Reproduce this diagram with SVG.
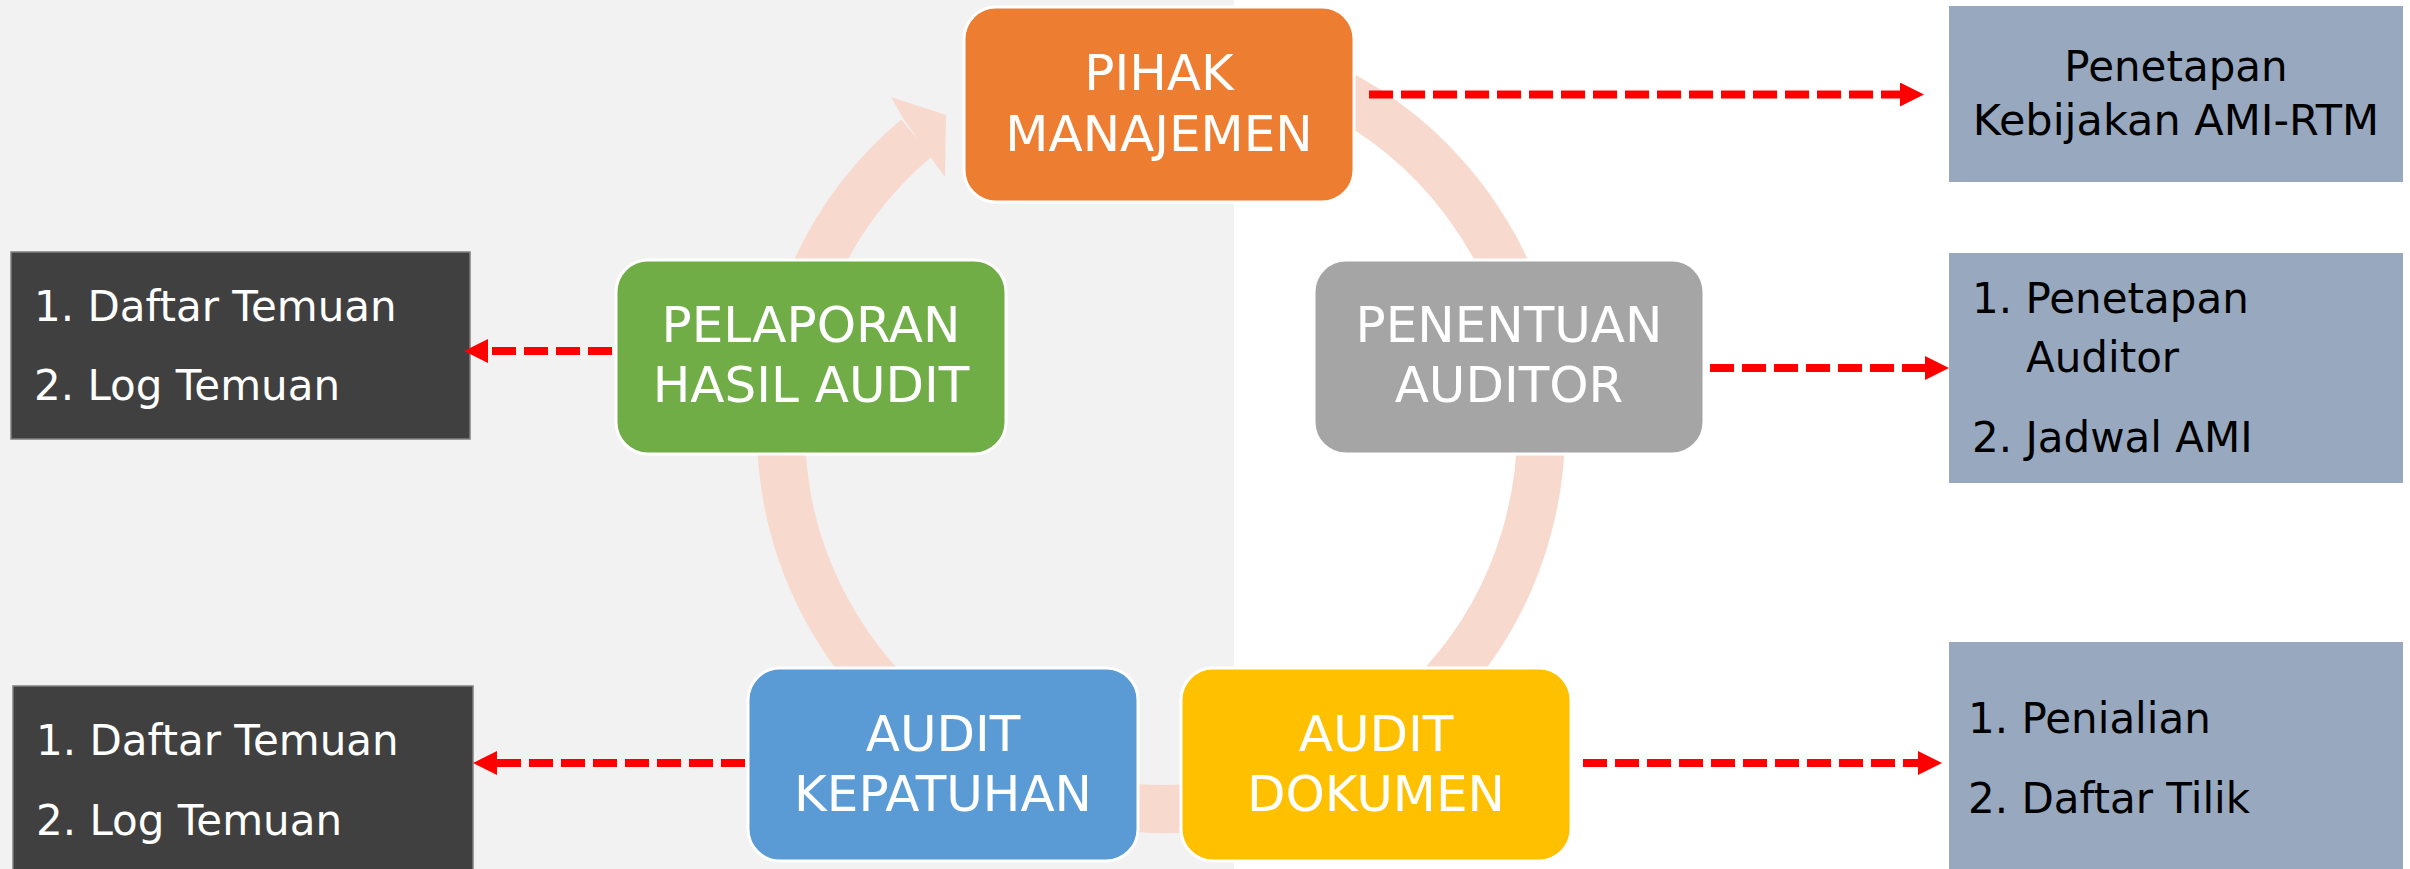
<svg xmlns="http://www.w3.org/2000/svg" width="2410" height="869" viewBox="0 0 2410 869">
  <defs>
    <style>
      .node { stroke: #FFFFFF; stroke-width: 3; }
      .label { font-family: "DejaVu Sans", "Liberation Sans", sans-serif; font-size: 50px; fill: #FFFFFF; text-anchor: middle; }
      .dark { fill: #404040; stroke: #7F7F7F; stroke-width: 1.5; }
      .info { fill: #98A9BF; }
      .wtxt { font-family: "DejaVu Sans", "Liberation Sans", sans-serif; font-size: 42px; fill: #FFFFFF; }
      .btxt { font-family: "DejaVu Sans", "Liberation Sans", sans-serif; font-size: 42px; fill: #000000; }
      .dash { stroke: #FF0000; stroke-width: 8; stroke-dasharray: 24 8; fill: none; }
      .cycle { stroke: #F8D9CE; stroke-width: 48; fill: none; }
    </style>
    <marker id="head" viewBox="0 0 24 24" refX="0" refY="12" markerWidth="24" markerHeight="24" markerUnits="userSpaceOnUse" orient="auto">
      <path d="M0,0 L24,12 L0,24 z" fill="#FF0000"/>
    </marker>
  </defs>

  <g id="background">
    <rect x="0" y="0" width="2410" height="869" fill="#FFFFFF"/>
    <rect x="0" y="0" width="1234" height="869" fill="#F2F2F2"/>
  </g>

  <g id="cycle-connector">
    <path class="cycle" d="M1161,49 A380,380 0 1 1 916.7,137.9"/>
    <polygon points="891,97 946,115 945,177 931,158 903,118" fill="#F8D9CE"/>
  </g>

  <g id="node-pihak">
    <rect class="node" x="964" y="7" width="390" height="195" rx="32" fill="#ED7D31"/>
    <text class="label" x="1159" y="90">PIHAK</text>
    <text class="label" x="1159" y="151">MANAJEMEN</text>
  </g>

  <g id="node-penentuan">
    <rect class="node" x="1314" y="260" width="390" height="194" rx="32" fill="#A5A5A5"/>
    <text class="label" x="1509" y="342">PENENTUAN</text>
    <text class="label" x="1509" y="402">AUDITOR</text>
  </g>

  <g id="node-dokumen">
    <rect class="node" x="1181" y="668" width="390" height="193" rx="32" fill="#FFC000"/>
    <text class="label" x="1376" y="751">AUDIT</text>
    <text class="label" x="1376" y="811">DOKUMEN</text>
  </g>

  <g id="node-kepatuhan">
    <rect class="node" x="748" y="668" width="390" height="193" rx="32" fill="#5B9BD5"/>
    <text class="label" x="943" y="751">AUDIT</text>
    <text class="label" x="943" y="811">KEPATUHAN</text>
  </g>

  <g id="node-pelaporan">
    <rect class="node" x="616" y="260" width="390" height="194" rx="32" fill="#70AD47"/>
    <text class="label" x="811" y="342">PELAPORAN</text>
    <text class="label" x="811" y="402">HASIL AUDIT</text>
  </g>

  <g id="out-kebijakan">
    <rect class="info" x="1949" y="6" width="454" height="176"/>
    <text class="btxt" x="2176" y="81" text-anchor="middle" font-size="43">Penetapan</text>
    <text class="btxt" x="2176" y="135" text-anchor="middle" style="font-size:43px">Kebijakan AMI-RTM</text>
  </g>

  <g id="out-auditor">
    <rect class="info" x="1949" y="253" width="454" height="230"/>
    <text class="btxt" x="1972" y="313">1. Penetapan</text>
    <text class="btxt" x="2026" y="372">Auditor</text>
    <text class="btxt" x="1972" y="452">2. Jadwal AMI</text>
  </g>

  <g id="out-penilaian">
    <rect class="info" x="1949" y="642" width="454" height="227"/>
    <text class="btxt" x="1968" y="733">1. Penialian</text>
    <text class="btxt" x="1968" y="813">2. Daftar Tilik</text>
  </g>

  <g id="out-temuan-1">
    <rect class="dark" x="11" y="252" width="459" height="187"/>
    <text class="wtxt" x="34" y="321">1. Daftar Temuan</text>
    <text class="wtxt" x="34" y="400">2. Log Temuan</text>
  </g>

  <g id="out-temuan-2">
    <rect class="dark" x="13" y="686" width="460" height="190"/>
    <text class="wtxt" x="36" y="755">1. Daftar Temuan</text>
    <text class="wtxt" x="36" y="835">2. Log Temuan</text>
  </g>

  <g id="connectors">
    <line class="dash" x1="1369" y1="94.5" x2="1900" y2="94.5" marker-end="url(#head)"/>
    <line class="dash" x1="1710" y1="368" x2="1925" y2="368" marker-end="url(#head)"/>
    <line class="dash" x1="1583" y1="763" x2="1918" y2="763" marker-end="url(#head)"/>
    <line class="dash" x1="612" y1="351" x2="488" y2="351" marker-end="url(#head)"/>
    <line class="dash" x1="745" y1="763" x2="497" y2="763" marker-end="url(#head)"/>
  </g>
</svg>
